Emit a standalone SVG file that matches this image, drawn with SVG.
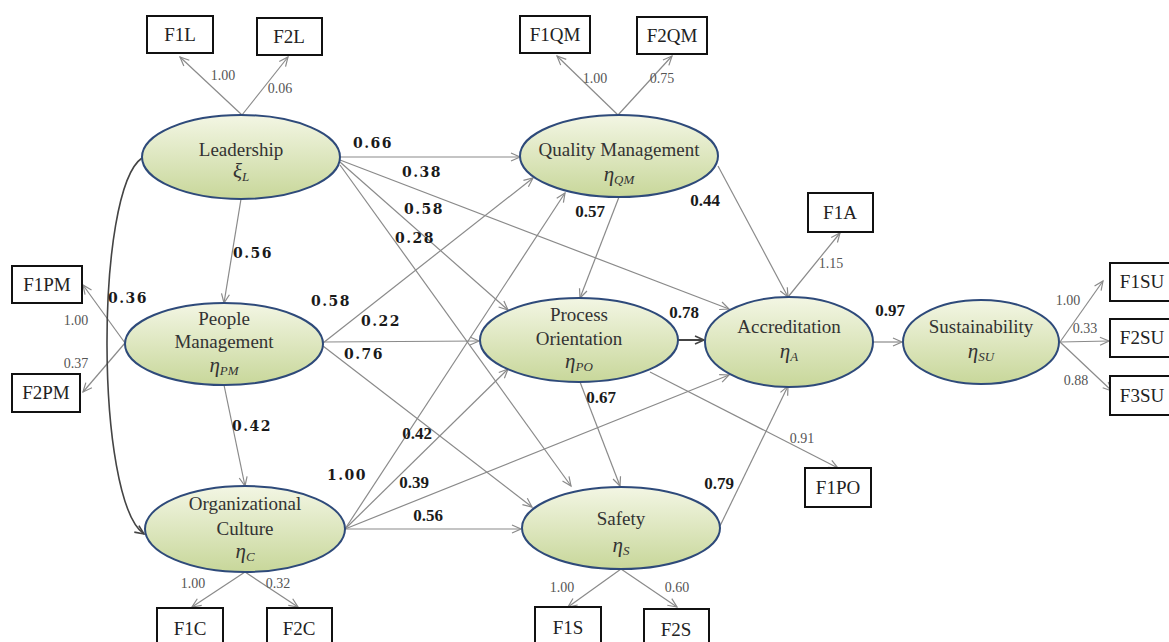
<svg xmlns="http://www.w3.org/2000/svg" width="1169" height="642" viewBox="0 0 1169 642">
<style>
.ell{fill:url(#g);stroke:#2e4a7a;stroke-width:2}
.nt{font-family:"Liberation Serif","Times New Roman",serif;font-size:19px;fill:#333;text-anchor:middle}
.sym{font-family:"Liberation Serif","Times New Roman",serif;font-size:21px;font-style:italic;fill:#333;text-anchor:middle}
.sub{font-size:13px}
.box{fill:#fff;stroke:#111;stroke-width:2}
.bt{font-family:"Liberation Serif","Times New Roman",serif;font-size:19px;fill:#222;text-anchor:middle}
.ln{fill:none;stroke:#8a8a8a;stroke-width:1.2;marker-end:url(#ah)}
.lnb{fill:none;stroke:#444;stroke-width:2;marker-end:url(#ahb)}
.cv{fill:none;stroke:#444;stroke-width:1.6;marker-end:url(#ahb)}
.sl{font-family:"Liberation Serif","Times New Roman",serif;font-size:14px;fill:#555;text-anchor:middle}
.bl{font-family:"Liberation Serif","Times New Roman",serif;font-size:17px;font-weight:bold;fill:#1a1a1a;text-anchor:middle}
.bm{font-family:"DejaVu Serif",serif;font-size:14px;font-weight:bold;fill:#1a1a1a;text-anchor:middle;letter-spacing:1.5px}
</style>
<defs>
<linearGradient id="g" x1="0" y1="0" x2="0" y2="1">
<stop offset="0" stop-color="#f3f6e4"/>
<stop offset="1" stop-color="#c8d79a"/>
</linearGradient>
<marker id="ah" markerWidth="12" markerHeight="10" refX="10" refY="5" orient="auto" markerUnits="userSpaceOnUse">
<path d="M1,1 L10,5 L1,9" fill="none" stroke="#8a8a8a" stroke-width="1.2"/>
</marker>
<marker id="ahb" markerWidth="12" markerHeight="10" refX="10" refY="5" orient="auto" markerUnits="userSpaceOnUse">
<path d="M1,1 L10,5 L1,9" fill="none" stroke="#444" stroke-width="1.6"/>
</marker>
</defs>
<rect width="1169" height="642" fill="#fff"/>

<g id="connectors">
<path class="ln" d="M242,115 L180,57"/>
<path class="ln" d="M242,115 L288,57"/>
<path class="ln" d="M618,115 L557,56"/>
<path class="ln" d="M618,115 L672,56"/>
<path class="ln" d="M125,343 L83,285"/>
<path class="ln" d="M125,343 L83,392"/>
<path class="ln" d="M245,572 L192,607"/>
<path class="ln" d="M245,572 L298,607"/>
<path class="ln" d="M621,569 L568,607"/>
<path class="ln" d="M621,569 L677,607"/>
<path class="ln" d="M650,372 L838,468"/>
<path class="ln" d="M788,297 L840,233"/>
<path class="ln" d="M1060,342 L1103,281"/>
<path class="ln" d="M1060,342 L1109,341"/>
<path class="ln" d="M1060,342 L1112,391"/>
<path class="ln" d="M340,157 L520,157"/>
<path class="ln" d="M340,160 L729,309"/>
<path class="ln" d="M340,162 L508,310"/>
<path class="ln" d="M340,165 L571,486"/>
<path class="ln" d="M241,199 L224,303"/>
<path class="cv" d="M142,158 C95,190 95,500 144,534"/>
<path class="ln" d="M323,343 L533,178"/>
<path class="ln" d="M323,342 L479,341"/>
<path class="ln" d="M323,346 L532,507"/>
<path class="ln" d="M224,385 L245,486"/>
<path class="ln" d="M345,529 L565,193"/>
<path class="ln" d="M345,529 L508,369"/>
<path class="ln" d="M345,529 L729,375"/>
<path class="ln" d="M345,529 L521,529"/>
<path class="ln" d="M619,197 L580,298"/>
<path class="ln" d="M718,166 L788,297"/>
<path class="lnb" d="M678,340 L704,340"/>
<path class="ln" d="M580,382 L620,486"/>
<path class="ln" d="M720,526 L788,386"/>
<path class="ln" d="M873,342 L902,342"/>
</g>

<g id="labels">
<text class="sl" x="223" y="80">1.00</text>
<text class="sl" x="280" y="93">0.06</text>
<text class="sl" x="595" y="83">1.00</text>
<text class="sl" x="662" y="83">0.75</text>
<text class="sl" x="76" y="325">1.00</text>
<text class="sl" x="76" y="368">0.37</text>
<text class="sl" x="831" y="268">1.15</text>
<text class="sl" x="1068" y="305">1.00</text>
<text class="sl" x="1085" y="333">0.33</text>
<text class="sl" x="1076" y="385">0.88</text>
<text class="sl" x="193" y="588">1.00</text>
<text class="sl" x="278" y="588">0.32</text>
<text class="sl" x="562" y="592">1.00</text>
<text class="sl" x="677" y="592">0.60</text>
<text class="sl" x="802" y="443">0.91</text>
<text class="bm" x="373" y="148">0.66</text>
<text class="bm" x="422" y="177">0.38</text>
<text class="bm" x="424" y="214">0.58</text>
<text class="bm" x="415" y="243">0.28</text>
<text class="bm" x="253" y="258">0.56</text>
<text class="bm" x="128" y="303">0.36</text>
<text class="bm" x="331" y="306">0.58</text>
<text class="bm" x="381" y="326">0.22</text>
<text class="bm" x="364" y="359">0.76</text>
<text class="bm" x="252" y="431">0.42</text>
<text class="bm" x="347" y="480">1.00</text>
<text class="bl" x="417" y="439">0.42</text>
<text class="bl" x="414" y="488">0.39</text>
<text class="bl" x="428" y="521">0.56</text>
<text class="bl" x="590" y="217">0.57</text>
<text class="bl" x="705" y="206">0.44</text>
<text class="bl" x="684" y="318">0.78</text>
<text class="bl" x="601" y="403">0.67</text>
<text class="bl" x="719" y="489">0.79</text>
<text class="bl" x="890" y="316">0.97</text>
</g>

<g id="n-leadership">
<ellipse class="ell" cx="241" cy="157" rx="99" ry="42"/>
<text class="nt" x="241" y="156">Leadership</text>
<text class="sym" x="241" y="178">ξ<tspan class="sub" dy="3">L</tspan></text>
</g>
<g id="n-quality">
<ellipse class="ell" cx="619" cy="156" rx="99" ry="41"/>
<text class="nt" x="619" y="156">Quality Management</text>
<text class="sym" x="619" y="181">η<tspan class="sub" dy="3">QM</tspan></text>
</g>
<g id="n-people">
<ellipse class="ell" cx="224" cy="344" rx="99" ry="41"/>
<text class="nt" x="224" y="325">People</text>
<text class="nt" x="224" y="348">Management</text>
<text class="sym" x="224" y="372">η<tspan class="sub" dy="3">PM</tspan></text>
</g>
<g id="n-process">
<ellipse class="ell" cx="579" cy="340" rx="99" ry="42"/>
<text class="nt" x="579" y="321">Process</text>
<text class="nt" x="579" y="345">Orientation</text>
<text class="sym" x="579" y="368">η<tspan class="sub" dy="3">PO</tspan></text>
</g>
<g id="n-accreditation">
<ellipse class="ell" cx="789" cy="342" rx="84" ry="45"/>
<text class="nt" x="789" y="333">Accreditation</text>
<text class="sym" x="789" y="358">η<tspan class="sub" dy="3">A</tspan></text>
</g>
<g id="n-sustainability">
<ellipse class="ell" cx="981" cy="342" rx="78" ry="42"/>
<text class="nt" x="981" y="333">Sustainability</text>
<text class="sym" x="981" y="358">η<tspan class="sub" dy="3">SU</tspan></text>
</g>
<g id="n-culture">
<ellipse class="ell" cx="245" cy="529" rx="100" ry="43"/>
<text class="nt" x="245" y="510">Organizational</text>
<text class="nt" x="245" y="535">Culture</text>
<text class="sym" x="245" y="558">η<tspan class="sub" dy="3">C</tspan></text>
</g>
<g id="n-safety">
<ellipse class="ell" cx="621" cy="528" rx="99" ry="41"/>
<text class="nt" x="621" y="525">Safety</text>
<text class="sym" x="621" y="552">η<tspan class="sub" dy="3">S</tspan></text>
</g>

<g id="b-F1L"><rect class="box" x="147" y="16" width="66" height="37"/><text class="bt" x="180" y="41">F1L</text></g>
<g id="b-F2L"><rect class="box" x="257" y="18" width="65" height="37"/><text class="bt" x="289" y="43">F2L</text></g>
<g id="b-F1QM"><rect class="box" x="520" y="16" width="70" height="37"/><text class="bt" x="555" y="41">F1QM</text></g>
<g id="b-F2QM"><rect class="box" x="637" y="17" width="70" height="37"/><text class="bt" x="672" y="42">F2QM</text></g>
<g id="b-F1PM"><rect class="box" x="12" y="266" width="70" height="37"/><text class="bt" x="47" y="291">F1PM</text></g>
<g id="b-F2PM"><rect class="box" x="12" y="374" width="68" height="38"/><text class="bt" x="46" y="399">F2PM</text></g>
<g id="b-F1A"><rect class="box" x="808" y="193" width="65" height="39"/><text class="bt" x="840" y="219">F1A</text></g>
<g id="b-F1SU"><rect class="box" x="1110" y="263" width="70" height="38"/><text class="bt" x="1142" y="288">F1SU</text></g>
<g id="b-F2SU"><rect class="box" x="1110" y="319" width="70" height="38"/><text class="bt" x="1142" y="344">F2SU</text></g>
<g id="b-F3SU"><rect class="box" x="1110" y="376" width="70" height="39"/><text class="bt" x="1142" y="402">F3SU</text></g>
<g id="b-F1PO"><rect class="box" x="805" y="468" width="66" height="39"/><text class="bt" x="838" y="494">F1PO</text></g>
<g id="b-F1C"><rect class="box" x="157" y="608" width="66" height="40"/><text class="bt" x="190" y="635">F1C</text></g>
<g id="b-F2C"><rect class="box" x="267" y="608" width="65" height="40"/><text class="bt" x="299" y="635">F2C</text></g>
<g id="b-F1S"><rect class="box" x="535" y="607" width="66" height="40"/><text class="bt" x="568" y="634">F1S</text></g>
<g id="b-F2S"><rect class="box" x="644" y="609" width="65" height="40"/><text class="bt" x="676" y="636">F2S</text></g>
</svg>
